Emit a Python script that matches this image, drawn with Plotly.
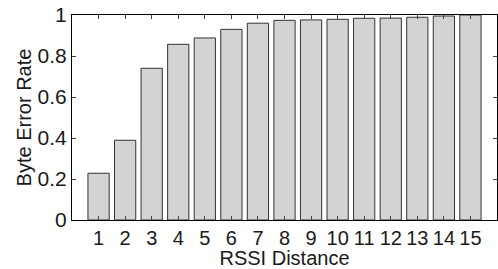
import plotly.graph_objects as go

rssi_distance = list(range(1, 16))
byte_error_rate = [0.228, 0.389, 0.740, 0.857, 0.888, 0.930, 0.960, 0.974,
                   0.976, 0.979, 0.984, 0.985, 0.989, 0.995, 1.0]
y_ticks = [0, 0.2, 0.4, 0.6, 0.8, 1]
y_tick_labels = ["0", "0.2", "0.4", "0.6", "0.8", "1"]

fig = go.Figure(go.Bar(
    x=rssi_distance, y=byte_error_rate, width=0.8,
    marker=dict(color="#d3d3d3", line=dict(color="#333333", width=1)),
))

font = "Liberation Sans, Arial, sans-serif"
fig.update_layout(
    width=498, height=269,
    margin=dict(l=72, r=1, t=15, b=49),
    paper_bgcolor="white", plot_bgcolor="white",
    showlegend=False,
    font=dict(family=font, size=20, color="#1a1a1a"),
)
fig.update_xaxes(
    range=[0, 16], tickvals=rssi_distance, ticks="inside", ticklen=4,
    showline=True, linecolor="black", linewidth=1, mirror="ticks",
    showgrid=False, zeroline=False, tickfont=dict(size=20), automargin=False,
    ticklabeloverflow="allow",
    title=dict(text="RSSI Distance", font=dict(size=20), standoff=7),
)
fig.update_yaxes(
    range=[0, 1], tickvals=y_ticks, ticktext=y_tick_labels, ticks="inside", ticklen=4,
    showline=True, linecolor="black", linewidth=1, mirror="ticks",
    showgrid=False, zeroline=False, tickfont=dict(size=21), automargin=False,
    ticklabeloverflow="allow",
    title=dict(text="Byte Error Rate", font=dict(size=20), standoff=0),
)
fig.write_html("out.html", config={"displayModeBar": False},
               post_script="document.body.style.margin='0';")
